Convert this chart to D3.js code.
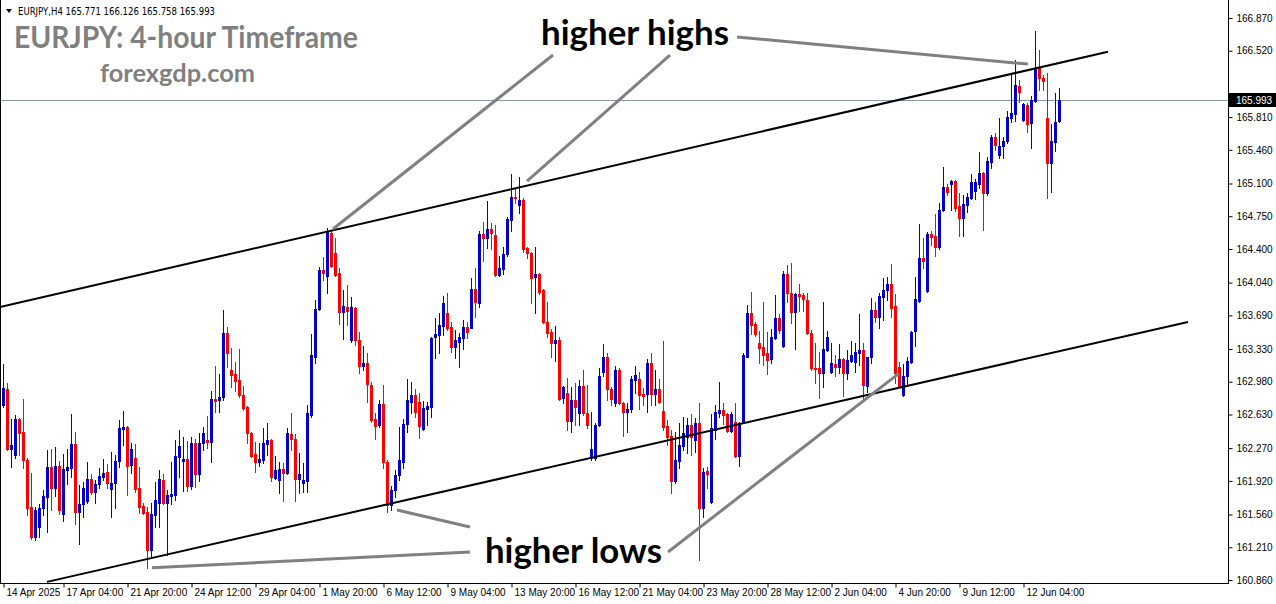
<!DOCTYPE html>
<html><head><meta charset="utf-8">
<script src="https://cdn.jsdelivr.net/npm/d3@7"></script>
<style>html,body{margin:0;padding:0;background:#fff;}svg{display:block;}</style>
</head><body><svg id="chart" width="1276" height="604"></svg>
<script>
// ---------- data ----------
const symbolLabel = "EURJPY,H4";
const lastBar = [165.771, 166.126, 165.758, 165.993];
const currentPrice = 165.993;
const tickBars = [0,15,31,47,63,79,95,111,127,143,159,175,191,207,223,239,255];
const tickLabels = ["14 Apr 2025","17 Apr 04:00","21 Apr 20:00","24 Apr 12:00","29 Apr 04:00","1 May 20:00","6 May 12:00","9 May 04:00","13 May 20:00","16 May 12:00","21 May 04:00","23 May 20:00","28 May 12:00","2 Jun 04:00","4 Jun 20:00","9 Jun 12:00","12 Jun 04:00"];
const priceTicks = [166.870,166.520,165.810,165.460,165.100,164.750,164.400,164.040,163.690,163.330,162.980,162.630,162.270,161.920,161.560,161.210,160.860];

const opens = [162.73,162.90,162.26,162.20,162.58,162.44,162.14,161.64,161.32,161.43,161.63,161.75,162.07,161.84,162.08,161.57,162.04,162.06,162.31,161.59,
161.67,161.71,161.94,161.80,161.89,161.96,162.01,161.83,161.90,162.13,162.47,162.50,162.09,162.16,161.84,161.65,161.59,161.18,161.56,161.68,
161.93,161.68,161.76,161.77,162.18,162.13,162.15,161.87,162.33,161.99,162.33,162.36,162.34,162.80,162.79,162.82,163.50,163.11,163.06,163.00,
162.84,162.71,162.43,162.21,162.12,162.14,162.31,162.36,161.95,161.93,162.05,162.00,162.42,162.37,161.94,161.90,161.92,162.62,163.25,163.76,
164.18,164.11,164.57,164.36,164.14,163.73,163.78,163.43,163.77,163.43,163.15,163.18,162.94,162.58,162.52,162.74,162.12,161.66,161.82,161.98,
162.12,162.53,162.76,162.84,162.76,162.47,162.69,162.71,163.46,163.48,163.58,163.71,163.57,163.35,163.41,163.45,163.57,163.56,163.97,163.82,
164.56,164.52,164.61,164.55,164.12,164.19,164.35,164.71,164.96,164.87,164.92,164.41,164.36,164.10,164.13,163.96,163.62,163.51,163.39,163.43,
162.81,162.86,162.56,162.79,162.65,162.93,162.65,162.16,162.16,162.52,163.08,163.24,162.90,162.75,163.11,162.75,162.66,162.69,163.00,163.01,
162.85,162.85,163.18,162.85,162.90,162.67,162.51,162.40,161.92,162.13,162.29,162.39,162.52,162.36,162.54,161.63,162.03,161.69,162.46,162.65,
162.68,162.64,162.45,162.55,162.19,162.55,163.25,163.71,163.60,163.39,163.35,163.29,163.22,163.45,163.66,163.36,164.13,163.93,163.73,163.92,
163.91,163.85,163.50,163.13,163.13,163.07,163.32,163.08,163.17,163.14,163.22,163.07,163.20,163.19,163.29,163.32,162.93,163.24,163.75,163.67,
163.89,163.96,164.03,163.79,163.14,162.84,163.04,163.19,163.52,163.84,164.30,163.95,164.56,164.54,164.42,164.82,165.06,165.10,165.13,164.86,
164.73,164.87,164.95,165.02,165.09,165.21,165.00,165.33,165.60,165.41,165.50,165.55,165.80,165.84,166.14,165.78,165.94,165.75,165.98,166.35,
166.23,165.80,165.32,165.54,165.771];
const highs = [163.17,162.97,162.58,162.62,162.59,162.80,162.16,162.00,161.64,161.67,161.82,162.25,162.26,162.28,162.13,162.21,162.26,162.64,162.44,161.88,
161.91,162.12,161.99,161.93,162.06,162.15,162.10,162.23,162.20,162.57,162.67,162.51,162.33,162.31,162.07,161.68,161.64,161.68,161.91,162.04,
161.99,161.82,162.12,162.36,162.46,162.39,162.35,162.39,162.37,162.43,162.50,162.61,162.88,163.15,163.06,163.75,163.57,163.34,163.19,163.33,
162.93,162.72,162.44,162.34,162.33,162.49,162.54,162.37,162.19,162.12,162.11,162.49,162.65,162.42,162.22,162.11,162.73,163.49,163.85,164.21,
164.31,164.62,164.60,164.52,164.20,163.96,164.01,163.89,163.78,163.51,163.36,163.29,162.98,162.65,162.79,162.94,162.14,161.86,162.04,162.50,
162.58,163.01,162.98,162.90,162.86,162.77,162.76,163.46,163.66,163.72,163.90,163.93,163.62,163.53,163.50,163.64,163.62,164.09,164.20,164.59,
164.69,164.91,164.68,164.66,164.33,164.42,164.74,165.20,165.05,165.17,164.95,164.42,164.37,164.42,164.14,163.97,163.83,163.54,163.58,163.46,
162.93,163.02,162.92,162.97,163.00,163.11,162.94,162.66,162.54,163.13,163.38,163.29,162.92,163.15,163.13,162.76,162.75,163.04,163.15,163.08,
162.91,163.22,163.29,163.11,163.01,163.42,162.57,162.46,162.44,162.54,162.60,162.59,162.64,162.59,162.75,162.06,162.07,162.64,162.73,162.98,
162.75,162.65,162.66,162.75,162.55,163.29,163.80,163.94,163.62,163.52,163.83,163.51,163.54,163.91,163.70,164.16,164.23,164.25,163.93,164.03,
163.93,163.93,163.53,163.39,163.30,163.83,163.52,163.39,163.27,163.38,163.23,163.32,163.42,163.39,163.70,163.39,163.25,163.88,163.83,163.93,
164.09,164.10,164.24,163.92,163.19,163.17,163.24,163.52,164.10,164.67,164.52,164.58,164.59,164.77,164.89,165.28,165.10,165.14,165.14,165.00,
164.98,165.00,165.20,165.15,165.44,165.22,165.38,165.62,165.64,165.80,165.60,165.88,166.28,166.42,166.21,165.96,165.96,166.04,166.73,166.53,
166.26,166.28,165.74,166.07,166.126];
const lows = [162.71,162.25,162.07,162.16,162.20,162.06,161.56,161.30,161.29,161.32,161.55,161.37,161.61,161.76,161.57,161.49,161.89,161.96,161.46,161.25,
161.53,161.68,161.78,161.68,161.84,161.93,161.84,161.53,161.63,162.07,162.30,161.77,162.00,161.80,161.58,161.57,160.99,161.12,161.43,161.43,
161.67,161.13,161.67,161.72,161.96,161.81,161.81,161.83,161.85,161.92,162.25,162.27,162.12,162.66,162.66,162.79,163.14,162.92,162.88,162.82,
162.68,162.33,162.18,162.01,162.08,162.11,162.20,161.92,161.94,161.79,161.71,161.99,162.25,161.70,161.79,161.80,161.80,162.60,163.18,163.75,
164.07,163.93,164.21,164.11,163.60,163.44,163.59,163.41,163.37,163.07,163.11,162.76,162.55,162.37,162.50,162.06,161.59,161.61,161.75,161.93,
162.06,162.44,162.65,162.60,162.38,162.46,162.52,162.60,163.23,163.29,163.48,163.53,163.30,163.23,163.14,163.33,163.45,163.55,163.67,163.78,
164.27,164.41,164.40,164.11,164.11,164.13,164.33,164.59,164.89,164.79,164.37,164.30,163.82,163.71,163.92,163.61,163.46,163.24,163.20,162.79,
162.75,162.46,162.44,162.52,162.52,162.62,162.49,162.14,162.14,162.51,163.04,162.79,162.73,162.72,162.74,162.40,162.44,162.66,162.86,162.69,
162.73,162.66,162.73,162.73,162.75,162.46,162.30,161.79,161.90,162.06,162.25,162.22,162.20,162.23,161.07,161.53,161.84,161.68,162.37,162.60,
162.53,162.44,162.44,162.18,162.08,162.54,163.24,163.49,163.47,163.18,163.16,163.06,163.18,163.44,163.50,163.35,163.83,163.61,163.33,163.74,
163.74,163.49,163.11,162.97,162.81,162.92,163.31,163.07,163.04,163.07,162.83,163.01,163.19,163.08,163.16,162.80,162.87,163.18,163.62,163.56,
163.64,163.85,163.67,162.97,162.92,162.83,162.93,163.18,163.36,163.83,164.20,163.94,164.44,164.33,164.40,164.81,164.98,164.82,164.81,164.54,
164.54,164.80,164.93,164.93,165.05,164.60,164.98,165.27,165.46,165.37,165.37,165.53,165.76,165.77,165.97,165.77,165.65,165.48,165.97,166.10,
166.10,164.94,165.01,165.45,165.758];
const closes = [162.91,162.26,162.30,162.58,162.43,162.14,161.63,161.32,161.61,161.63,161.76,162.07,161.84,162.08,161.61,162.05,162.07,162.31,161.59,161.67,
161.84,161.94,161.80,161.89,161.97,162.00,161.90,161.90,162.13,162.49,162.50,162.08,162.26,161.83,161.64,161.58,161.18,161.57,161.72,161.94,
161.68,161.77,161.78,162.19,162.29,162.15,161.87,162.33,161.99,162.33,162.43,162.34,162.80,162.77,162.82,163.50,163.29,163.05,162.99,162.84,
162.70,162.43,162.19,162.12,162.15,162.33,162.36,161.96,162.04,162.05,162.00,162.43,162.37,161.94,161.99,161.93,162.65,163.27,163.76,164.18,
164.14,164.58,164.22,164.12,163.73,163.79,163.74,163.78,163.43,163.15,163.18,162.96,162.57,162.51,162.74,162.12,161.66,161.82,161.98,162.14,
162.53,162.79,162.84,162.66,162.51,162.70,162.72,163.45,163.49,163.59,163.82,163.56,163.35,163.43,163.46,163.57,163.51,163.97,163.83,164.56,
164.52,164.61,164.57,164.12,164.20,164.35,164.72,164.96,164.94,164.92,164.40,164.36,164.09,164.13,163.94,163.62,163.50,163.39,163.43,162.80,
162.92,162.56,162.79,162.71,162.93,162.65,162.52,162.26,162.52,163.04,163.24,162.90,162.80,163.11,162.75,162.66,162.69,163.01,163.05,162.84,
162.83,163.18,162.85,162.90,162.76,162.50,162.39,161.92,162.14,162.30,162.43,162.52,162.39,162.54,161.63,162.01,161.99,162.49,162.66,162.68,
162.62,162.45,162.64,162.19,162.54,163.27,163.71,163.59,163.49,163.34,163.27,163.21,163.46,163.66,163.53,164.13,163.93,163.73,163.92,163.90,
163.87,163.50,163.13,163.12,163.07,163.33,163.46,163.18,163.14,163.22,163.07,163.21,163.27,163.30,163.32,162.94,163.24,163.75,163.67,163.90,
163.96,164.03,163.77,163.07,162.93,163.04,163.20,163.51,163.87,164.30,164.27,164.56,164.53,164.42,164.82,165.06,165.01,165.13,164.84,164.73,
164.88,164.96,165.12,165.12,165.21,165.00,165.34,165.60,165.51,165.50,165.55,165.81,165.85,166.15,166.08,165.95,165.74,165.99,166.34,166.23,
166.20,165.32,165.55,165.76,165.993];

// annotation geometry, expressed in (bar index, price)
const channelUpper = [[-0.75,163.78],[276.25,166.51]];
const channelLower = [[11,160.84],[296.25,163.62]];
const highPointers = [[[137.5,166.474],[82.5,164.614]], [[166.75,166.474],[131,165.126]], [[183.5,166.667],[256.25,166.377]]];
const lowPointers  = [[[116.75,161.427],[98.5,161.609]], [[116.75,161.16],[37.25,160.99]], [[166.25,161.16],[224,163.07]]];

// ---------- drawing ----------
const W = 1276, H = 604;
const plotRight = 1228, plotBottom = 583;
const svg = d3.select("#chart");
svg.append("rect").attr("width", W).attr("height", H).attr("fill", "#fff");

const x = d3.scaleLinear().domain([0, 306]).range([3, 1227]);
const y = d3.scaleLinear().domain([160.86, 166.87]).range([580, 18]);

const clip = svg.append("defs").append("clipPath").attr("id","plot")
  .append("rect").attr("x",0).attr("y",0).attr("width",plotRight).attr("height",plotBottom);

const plot = svg.append("g").attr("clip-path","url(#plot)");

// current price line
plot.append("line").attr("x1",0).attr("x2",plotRight)
  .attr("y1", Math.round(y(currentPrice))+0.5).attr("y2", Math.round(y(currentPrice))+0.5)
  .attr("stroke","#8a98a6").attr("stroke-width",1);

const bars = d3.range(opens.length).map(i => ({i, o:opens[i], h:highs[i], l:lows[i], c:closes[i]}));
const upCol = "#0000d0", dnCol = "#ff0000";
const g = plot.append("g");
g.selectAll("rect.wick").data(bars).join("rect").attr("class","wick")
  .attr("x", d => Math.round(x(d.i)))
  .attr("y", d => Math.round(y(d.h)))
  .attr("width", 1)
  .attr("height", d => Math.max(1, Math.round(y(d.l)) - Math.round(y(d.h)) + 1))
  .attr("fill", d => d.c >= d.o ? upCol : dnCol);
g.selectAll("rect.body").data(bars).join("rect").attr("class","body")
  .attr("x", d => Math.round(x(d.i)) - 1)
  .attr("y", d => Math.round(y(Math.max(d.o,d.c))))
  .attr("width", 3)
  .attr("height", d => Math.max(1, Math.round(y(Math.min(d.o,d.c))) - Math.round(y(Math.max(d.o,d.c))) + 1))
  .attr("fill", d => d.c >= d.o ? upCol : dnCol);

// channel lines
const lineGen = d3.line().x(d => x(d[0])).y(d => y(d[1]));
[channelUpper, channelLower].forEach(seg => {
  plot.append("path").attr("d", lineGen(seg)).attr("fill","none").attr("stroke","#000").attr("stroke-width",2);
});
// pointer lines
highPointers.concat(lowPointers).forEach(seg => {
  plot.append("path").attr("d", lineGen(seg)).attr("fill","none").attr("stroke","#808080").attr("stroke-width",3);
});

// annotation texts
function label(t, cx, base, size, len, col){
  plot.append("text").attr("x",cx).attr("y",base).text(t)
    .attr("font-family","Lato, 'Open Sans', sans-serif").attr("font-weight","bold")
    .attr("font-size",size).attr("fill",col)
    .attr("textLength",len).attr("lengthAdjust","spacingAndGlyphs");
}
label("higher highs", 541, 45, 34, 188, "#000");
label("higher lows", 485, 563, 34, 177, "#000");
label("EURJPY: 4-hour Timeframe", 14, 48, 31, 344, "#808080");
label("forexgdp.com", 100, 82, 24, 155, "#808080");

// header
plot.append("path").attr("d","M6,9 L12,9 L9,13 Z").attr("fill","#000");
plot.append("text").attr("x",18).attr("y",15)
  .text(symbolLabel + "  " + lastBar.map(v=>v.toFixed(3)).join(" "))
  .attr("font-family","'DejaVu Sans', sans-serif").attr("font-size",10).attr("fill","#000")
  .attr("textLength",197).attr("lengthAdjust","spacingAndGlyphs");

// frame
svg.append("line").attr("x1",0.5).attr("x2",0.5).attr("y1",0).attr("y2",plotBottom).attr("stroke","#000");

// axes
const yAxis = d3.axisRight(y).tickValues(priceTicks).tickFormat(d3.format(".3f")).tickSize(4).tickPadding(4);
const ya = svg.append("g").attr("transform",`translate(${plotRight+0.5},0)`).call(yAxis);
ya.select(".domain").attr("d", `M0,0V${plotBottom}`);
ya.selectAll("text").attr("font-family","'Liberation Sans', Arial, sans-serif").attr("font-size",10).attr("fill","#000");

const xAxis = d3.axisBottom(x).tickValues(tickBars).tickFormat((d,i)=>tickLabels[i]).tickSize(4).tickPadding(1);
const xa = svg.append("g").attr("transform",`translate(0,${plotBottom+0.5})`).call(xAxis);
xa.select(".domain").attr("d", `M0,0H${plotRight+1}`);
xa.selectAll(".tick line").attr("transform","translate(0.5,0)");
xa.selectAll("text").attr("text-anchor","start").attr("dx",3)
  .attr("font-family","'Liberation Sans', Arial, sans-serif").attr("font-size",10).attr("fill","#000");

// current price tag
const cy = Math.round(y(currentPrice));
svg.append("rect").attr("x",plotRight+1).attr("y",cy-7).attr("width",W-plotRight-1).attr("height",14).attr("fill","#000");
svg.append("text").attr("x",plotRight+8).attr("y",cy+4).text(currentPrice.toFixed(3))
  .attr("font-family","'Liberation Sans', Arial, sans-serif").attr("font-size",10).attr("fill","#fff");
</script></body></html>
